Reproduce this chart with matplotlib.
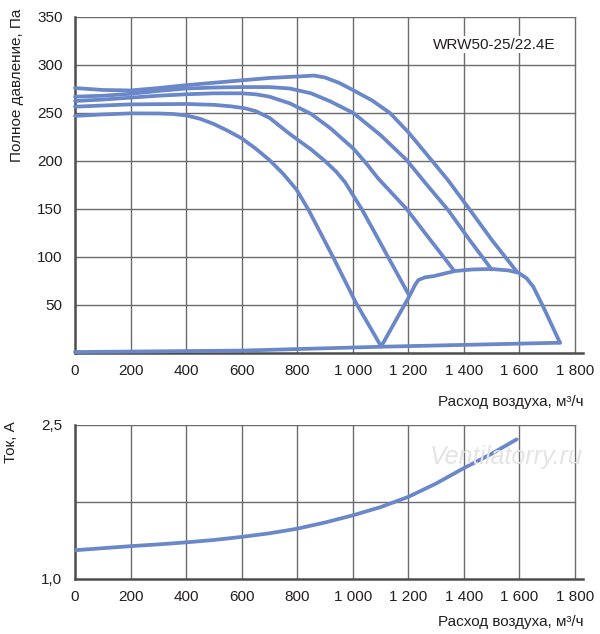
import matplotlib
matplotlib.use("Agg")
import matplotlib.pyplot as plt

plt.rcParams['font.family'] = ['Liberation Sans', 'DejaVu Sans']

# fan curves (pressure, Pa vs airflow, m3/h), top to bottom
q_a = [0, 100, 200, 300, 400, 500, 600, 700, 800, 860, 900, 950, 1000, 1070,
       1134, 1200, 1266, 1343, 1422, 1500, 1590]
p_a = [276, 274, 273.5, 276, 279, 281.5, 284, 286.5, 288, 289, 287, 281.5, 274, 263,
       250, 230, 207, 180, 149, 118, 85]

q_b = [0, 100, 200, 300, 400, 500, 600, 700, 774, 850, 920, 1002, 1100, 1194,
       1253, 1343, 1420, 1500]
p_b = [267, 268, 270, 273, 275.5, 276.5, 277, 277, 275.5, 270.5, 262, 250, 227, 201,
       180, 149, 118, 87]

q_c = [0, 100, 200, 300, 400, 500, 600, 650, 700, 774, 850, 920, 1002, 1050,
       1091, 1194, 1260, 1327, 1364]
p_c = [262.5, 264, 266, 268, 269.5, 270.5, 270.5, 269.5, 267, 260, 249, 234, 213, 197,
       182, 150, 125, 100, 86]

q_d = [0, 200, 400, 500, 560, 610, 650, 700, 774, 850, 900, 940, 972, 1032, 1080,
       1127, 1203]
p_d = [256.6, 259, 259.4, 258.5, 257, 255, 252, 245, 228, 212, 200, 189, 178, 150, 125,
       100, 60]

q_e = [0, 100, 200, 300, 350, 400, 450, 500, 550, 600, 650, 700, 750, 798, 839,
       929, 1012, 1102]
p_e = [247, 248.5, 249.6, 249.5, 249, 247.5, 244, 238.5, 231.5, 223.6, 213, 201, 186.5,
       170, 150, 100, 52, 7]

# working area boundary
q_env = [1102, 1206, 1224, 1236, 1260, 1290, 1368, 1430, 1500, 1560, 1596, 1626,
         1650, 1686, 1746]
p_env = [6.6, 60.4, 70.8, 76, 78.8, 80, 85.4, 87, 87.5, 86, 83.7, 77.8,
         69, 48, 10.7]

q_low = [0, 600, 1100, 1746]
p_low = [1, 2.5, 6.5, 10.7]

# current, A
q_i = [0, 100, 200, 300, 400, 500, 600, 700, 800, 900, 1000, 1100, 1200, 1300,
       1400, 1500, 1590]
cur = [1.28, 1.30, 1.32, 1.337, 1.357, 1.38, 1.41, 1.445, 1.49, 1.55, 1.62, 1.70,
       1.80, 1.93, 2.08, 2.22, 2.36]

x_ticks = [0, 200, 400, 600, 800, 1000, 1200, 1400, 1600, 1800]
x_labels = ['0', '200', '400', '600', '800', '1 000', '1 200', '1 400', '1 600', '1 800']
p_ticks = [50, 100, 150, 200, 250, 300, 350]
i_ticks = [1.0, 2.5]
i_labels = ['1,0', '2,5']

blue = '#6a87c9'
gridc = '#6b6b6b'
textc = '#231f20'

fig = plt.figure(figsize=(6, 6.34), dpi=100)
W, H = 600, 634
ax1 = fig.add_axes([75 / W, 1 - 353 / H, 508.3 / W, 336 / H])
ax2 = fig.add_axes([75 / W, 1 - 579 / H, 508.3 / W, 154 / H])


def frame(ax, ylo, yhi, hgrid):
    ax.set_xlim(0, 1830)
    ax.set_ylim(ylo, yhi)
    for x in x_ticks[1:]:
        ax.plot([x, x], [ylo, yhi], color=gridc, lw=1.0, zorder=1)
    for y in hgrid:
        ax.plot([0, 1800], [y, y], color=gridc, lw=1.0, zorder=1)
    for s in ['top', 'right']:
        ax.spines[s].set_visible(False)
    for s in ['left', 'bottom']:
        ax.spines[s].set_color('#4d4d4d')
        ax.spines[s].set_linewidth(1.8)
    ax.set_xticks(x_ticks)
    ax.set_xticklabels(x_labels)
    ax.tick_params(length=0, labelsize=11, colors=textc)
    ax.tick_params(axis='x', pad=8)
    ax.tick_params(axis='y', pad=9)


frame(ax1, 0, 350, p_ticks)
ax1.set_yticks(p_ticks)

for q, p in [(q_a, p_a), (q_b, p_b), (q_c, p_c), (q_d, p_d), (q_e, p_e),
             (q_env, p_env), (q_low, p_low)]:
    ax1.plot(q, p, color=blue, lw=2.7, solid_joinstyle='round',
             solid_capstyle='round', clip_on=False, zorder=3)

ax1.text(1508, 321, 'WRW50-25/22.4E', fontsize=11, color=textc,
         ha='center', va='center', zorder=4,
         bbox=dict(facecolor='white', edgecolor='none', pad=1))

frame(ax2, 1.0, 2.5, [1.75, 2.5])
ax2.set_yticks(i_ticks)
ax2.set_yticklabels(i_labels)
ax2.plot(q_i, cur, color=blue, lw=2.7, solid_joinstyle='round',
         solid_capstyle='round', zorder=3)

fig.text(17 / W, 1 - 85 / H, 'Полное давление, Па', rotation=90,
         ha='center', va='center', fontsize=11, color=textc)
fig.text(11 / W, 1 - 442 / H, 'Ток, А', rotation=90,
         ha='center', va='center', fontsize=11, color=textc)
fig.text(584 / W, 1 - 402 / H, 'Расход воздуха, м³/ч',
         ha='right', va='center', fontsize=11, color=textc)
fig.text(584 / W, 1 - 622 / H, 'Расход воздуха, м³/ч',
         ha='right', va='center', fontsize=11, color=textc)
fig.text(506 / W, 1 - 457 / H, 'Ventilatorry.ru', style='italic',
         ha='center', va='center', fontsize=18, color='#e4e4e4', zorder=0)

fig.savefig('out.png', dpi=100)
